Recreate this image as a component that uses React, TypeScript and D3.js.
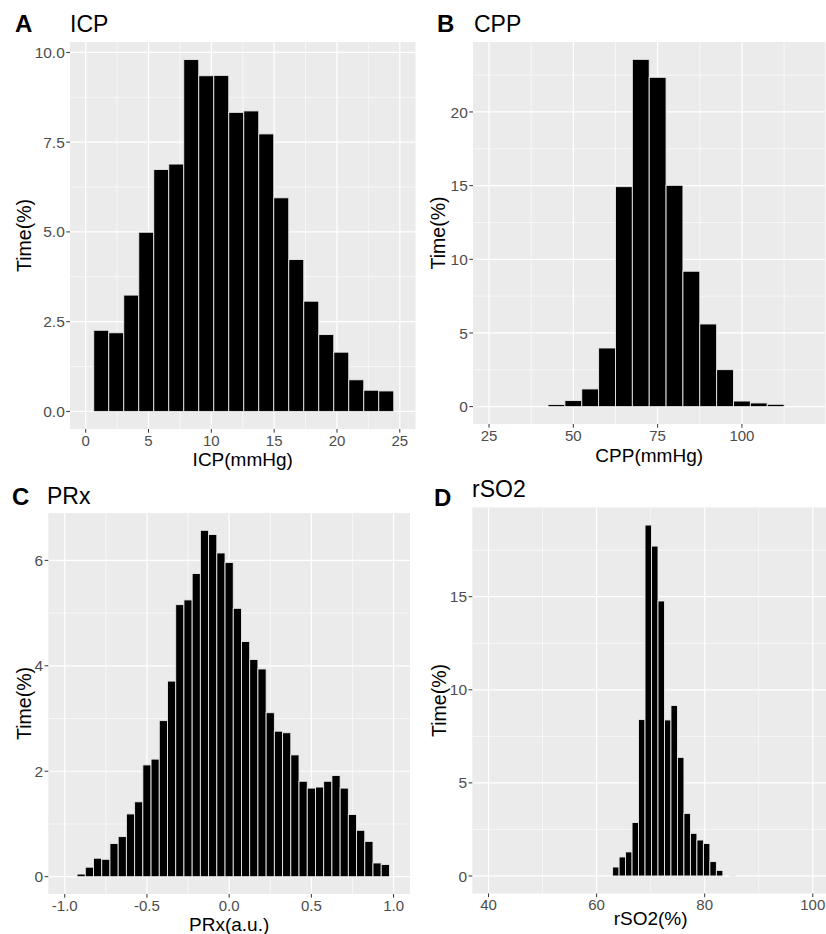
import React from 'react';
import * as d3 from 'd3';

// ---------- DATA ----------
// Panel A: ICP
const icpValues = [2.26, 2.19, 3.24, 4.99, 6.74, 6.89, 9.8, 9.35, 9.36, 8.33, 8.37, 7.73, 5.95, 4.23, 3.07, 2.14, 1.65, 0.88, 0.59, 0.57];
const icpBinStart = 0.64;
const icpBinWidth = 1.194;
const icpXTicks = [0, 5, 10, 15, 20, 25];
const icpYTicks = [0, 2.5, 5, 7.5, 10];

// Panel B: CPP
const cppValues = [0.14, 0.41, 1.2, 3.98, 14.93, 23.57, 22.35, 15.02, 9.19, 5.61, 2.51, 0.38, 0.25, 0.16];
const cppBinStart = 42.5;
const cppBinWidth = 5;
const cppXTicks = [25, 50, 75, 100];
const cppYTicks = [0, 5, 10, 15, 20];

// Panel C: PRx
const prxValues = [0.05, 0.18, 0.35, 0.33, 0.63, 0.76, 1.19, 1.42, 2.12, 2.23, 2.96, 3.71, 5.16, 5.25, 5.75, 6.57, 6.49, 6.14, 5.96, 5.09,
  4.46, 4.12, 3.94, 3.11, 2.76, 2.73, 2.31, 1.81, 1.68, 1.7, 1.81, 1.92, 1.68, 1.18, 0.88, 0.67, 0.26, 0.23];
const prxBinStart = -0.925;
const prxBinWidth = 0.05;
const prxXTicks = [-1, -0.5, 0, 0.5, 1];
const prxYTicks = [0, 2, 4, 6];

// Panel D: rSO2
const rso2Values = [0.48, 1.02, 1.29, 2.87, 8.4, 18.85, 17.72, 14.77, 8.38, 9.16, 6.37, 3.36, 2.29, 1.93, 1.74, 0.77, 0.3, 0, 0.04];
const rso2BinStart = 62.96;
const rso2BinWidth = 1.2;
const rso2XTicks = [40, 60, 80, 100];
const rso2YTicks = [0, 5, 10, 15];

const FONT = "'Liberation Sans', Arial, Helvetica, sans-serif";

type PanelProps = {
  id: string;
  rect: { left: number; top: number; right: number; bottom: number };
  xLimits: [number, number];
  values: number[];
  binStart: number;
  binWidth: number;
  xTicks: number[];
  yTicks: number[];
  xFmt: (v: number) => string;
  yFmt: (v: number) => string;
  letter: string;
  letterPos: [number, number];
  title: string;
  titlePos: [number, number];
  xTitle: string;
  xTitleY: number;
  yTitleX: number;
};

function Panel(p: PanelProps) {
  const { left, top, right, bottom } = p.rect;
  const [x0, x1] = p.xLimits;
  const xr = x1 - x0;
  const x = d3.scaleLinear().domain([x0 - 0.05 * xr, x1 + 0.05 * xr]).range([left, right]);
  const maxV = d3.max(p.values) as number;
  const y = d3.scaleLinear().domain([-0.05 * maxV, 1.05 * maxV]).range([bottom, top]);

  const xStep = p.xTicks[1] - p.xTicks[0];
  const yStep = p.yTicks[1] - p.yTicks[0];
  const xMinor: number[] = [];
  for (let i = -1; i < p.xTicks.length + 1; i++) xMinor.push(p.xTicks[0] + (i + 0.5) * xStep);
  const yMinor: number[] = [];
  for (let i = -1; i < p.yTicks.length + 1; i++) yMinor.push(p.yTicks[0] + (i + 0.5) * yStep);

  const clipId = 'clip-' + p.id;
  const tickLen = 3.7;

  return (
    <g>
      <defs>
        <clipPath id={clipId}>
          <rect x={left} y={top} width={right - left} height={bottom - top} />
        </clipPath>
      </defs>
      <rect x={left} y={top} width={right - left} height={bottom - top} fill="#ebebeb" />
      <g clipPath={`url(#${clipId})`}>
        {yMinor.map((v, i) => (
          <line key={'ym' + i} x1={left} x2={right} y1={y(v)} y2={y(v)} stroke="#fff" strokeWidth={0.6} />
        ))}
        {xMinor.map((v, i) => (
          <line key={'xm' + i} y1={top} y2={bottom} x1={x(v)} x2={x(v)} stroke="#fff" strokeWidth={0.6} />
        ))}
        {p.yTicks.map((v, i) => (
          <line key={'yM' + i} x1={left} x2={right} y1={y(v)} y2={y(v)} stroke="#fff" strokeWidth={1.2} />
        ))}
        {p.xTicks.map((v, i) => (
          <line key={'xM' + i} y1={top} y2={bottom} x1={x(v)} x2={x(v)} stroke="#fff" strokeWidth={1.2} />
        ))}
        {p.values.map((v, i) => {
          if (v <= 0) return null;
          const a = p.binStart + i * p.binWidth;
          const b = a + p.binWidth;
          return (
            <rect
              key={'b' + i}
              x={x(a)}
              y={y(v)}
              width={x(b) - x(a)}
              height={y(0) - y(v)}
              fill="#000"
              stroke="#e8e8e8"
              strokeWidth={0.9}
            />
          );
        })}
      </g>
      {p.yTicks.map((v, i) => (
        <g key={'yt' + i}>
          <line x1={left - tickLen} x2={left} y1={y(v)} y2={y(v)} stroke="#333" strokeWidth={1} />
          <text x={left - tickLen - 1.5} y={y(v)} dy="0.36em" textAnchor="end" fontSize={15.5} fill="#4d4d4d" fontFamily={FONT}>
            {p.yFmt(v)}
          </text>
        </g>
      ))}
      {p.xTicks.map((v, i) => (
        <g key={'xt' + i}>
          <line x1={x(v)} x2={x(v)} y1={bottom} y2={bottom + tickLen} stroke="#333" strokeWidth={1} />
          <text x={x(v)} y={bottom + 16.5} textAnchor="middle" fontSize={15} fill="#4d4d4d" fontFamily={FONT}>
            {p.xFmt(v)}
          </text>
        </g>
      ))}
      <text x={(left + right) / 2} y={p.xTitleY} textAnchor="middle" fontSize={19} fill="#000" fontFamily={FONT}>
        {p.xTitle}
      </text>
      <text
        transform={`translate(${p.yTitleX},${(top + bottom) / 2}) rotate(-90)`}
        textAnchor="middle"
        dy="0.35em"
        fontSize={19.5}
        fill="#000"
        fontFamily={FONT}
      >
        Time(%)
      </text>
      <text x={p.letterPos[0]} y={p.letterPos[1]} fontSize={24} fontWeight="bold" fill="#000" fontFamily={FONT}>
        {p.letter}
      </text>
      <text x={p.titlePos[0]} y={p.titlePos[1]} fontSize={23} fill="#000" fontFamily={FONT}>
        {p.title}
      </text>
    </g>
  );
}

export default function App() {
  const f1 = (v: number) => v.toFixed(1);
  const f0 = (v: number) => String(v);
  return (
    <svg
      width={826}
      height={934}
      viewBox="0 0 826 934"
      style={{ position: 'absolute', left: 0, top: 0, background: '#fff' }}
    >
      <rect x={0} y={0} width={826} height={934} fill="#fff" />
      <Panel
        id="a"
        rect={{ left: 70, top: 42, right: 415.5, bottom: 429 }}
        xLimits={[0, 25]}
        values={icpValues}
        binStart={icpBinStart}
        binWidth={icpBinWidth}
        xTicks={icpXTicks}
        yTicks={icpYTicks}
        xFmt={f0}
        yFmt={f1}
        letter="A"
        letterPos={[15, 32]}
        title="ICP"
        titlePos={[70, 32]}
        xTitle="ICP(mmHg)"
        xTitleY={466}
        yTitleX={24.5}
      />
      <Panel
        id="b"
        rect={{ left: 473, top: 42, right: 825.4, bottom: 424 }}
        xLimits={[25, 120]}
        values={cppValues}
        binStart={cppBinStart}
        binWidth={cppBinWidth}
        xTicks={cppXTicks}
        yTicks={cppYTicks}
        xFmt={f0}
        yFmt={f0}
        letter="B"
        letterPos={[437, 32]}
        title="CPP"
        titlePos={[474, 32]}
        xTitle="CPP(mmHg)"
        xTitleY={462}
        yTitleX={438.5}
      />
      <Panel
        id="c"
        rect={{ left: 48.3, top: 513, right: 410, bottom: 894 }}
        xLimits={[-1, 1]}
        values={prxValues}
        binStart={prxBinStart}
        binWidth={prxBinWidth}
        xTicks={prxXTicks}
        yTicks={prxYTicks}
        xFmt={f1}
        yFmt={f0}
        letter="C"
        letterPos={[12, 505]}
        title="PRx"
        titlePos={[47, 504]}
        xTitle="PRx(a.u.)"
        xTitleY={930.5}
        yTitleX={24}
      />
      <Panel
        id="d"
        rect={{ left: 472.3, top: 507.5, right: 829, bottom: 893.5 }}
        xLimits={[40, 100]}
        values={rso2Values}
        binStart={rso2BinStart}
        binWidth={rso2BinWidth}
        xTicks={rso2XTicks}
        yTicks={rso2YTicks}
        xFmt={f0}
        yFmt={f0}
        letter="D"
        letterPos={[434, 506]}
        title="rSO2"
        titlePos={[472, 497]}
        xTitle="rSO2(%)"
        xTitleY={925}
        yTitleX={439}
      />
    </svg>
  );
}
